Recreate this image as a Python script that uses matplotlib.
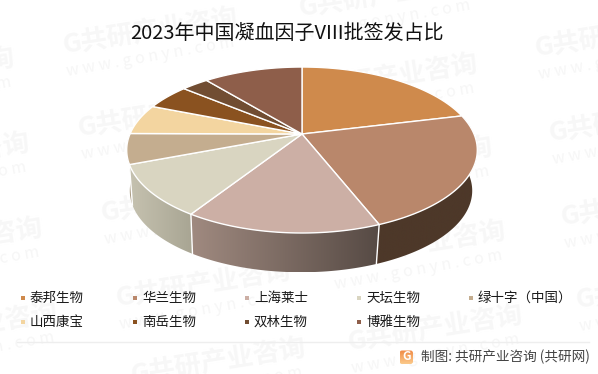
import numpy as np
import matplotlib
matplotlib.use("Agg")
import matplotlib.pyplot as plt
from matplotlib.colors import LinearSegmentedColormap
from matplotlib.patches import Polygon, Rectangle, FancyBboxPatch

plt.rcParams["font.family"] = ["Noto Sans CJK SC", "DejaVu Sans"]

title = "2023年中国凝血因子VIII批签发占比"
names = ["泰邦生物", "华兰生物", "上海莱士", "天坛生物", "绿十字（中国）",
         "山西康宝", "南岳生物", "双林生物", "博雅生物"]
shares = [21.2, 22.8, 15.1, 10.1, 5.9, 5.9, 5.0, 3.0, 11.0]
top_colors = ["#cf8a4c", "#b9876b", "#ccafa5", "#d9d5c1", "#c4ad8f",
              "#f3d5a0", "#8a5220", "#714d32", "#8e5e4a"]
# side wall colours, left end and right end of each visible slice
side_left = {1: "#4d3829", 2: "#a08a80", 3: "#c6c2b0", 4: "#a89a82"}
side_right = {1: "#4d3829", 2: "#564a44", 3: "#a8a593", 4: "#a89a82"}
legend_x = [23, 135, 247, 359, 471]
legend_y = [298, 322]
# watermark anchors: centre of the big text
mark_x = [150, 165, 188, 203, 218, 386, 390, 405, 418, 435, 622, 636, 648, 663, -73, -58, -45, -30]
mark_y = [32, 115, 200, 285, 362, -5, 78, 161, 245, 329, 35, 120, 204, 287, 72, 157, 242, 327]

fig = plt.figure(figsize=(5.98, 3.74), dpi=100)
ax = fig.add_axes([0, 0, 1, 1])
ax.axis("off")

for x, y in zip(mark_x, mark_y):
    ax.text(x, y, "G共研产业咨询", fontsize=19, fontweight="bold", color="#f7f7f7",
            rotation=9, ha="center", va="center", zorder=0)
    ax.text(x, y + 25, "w w w . g o n y n . c o m", fontsize=11.5, color="#f6f6f6",
            rotation=10, ha="center", va="center", zorder=0)


def project(theta, cx=302, cy=134, a=172, b=79.9, k=0.193):
    # theta runs clockwise from 12 o'clock on the flat disc
    u = np.sin(theta)
    v = np.cos(theta)
    w = 1 + k * v
    return cx + a * u / w, cy - b * v / w


edges = np.radians(np.cumsum([0] + shares) / np.sum(shares) * 360)

# side walls
for i in [4, 3, 2, 1]:
    t = np.linspace(edges[i], edges[i + 1], 80)
    tx, ty = project(t)
    bx, by = project(t, cx=301, cy=175, a=168, b=78.5)
    mask = by > ty - 0.5
    tx, ty, bx, by = tx[mask], ty[mask], bx[mask], by[mask]
    pts = np.r_[np.c_[tx, ty], np.c_[bx, by][::-1]]
    poly = Polygon(pts, closed=True, facecolor="none", edgecolor="none", zorder=2)
    ax.add_patch(poly)
    cmap = LinearSegmentedColormap.from_list("side", [side_left[i], side_right[i]])
    im = ax.imshow(np.linspace(0, 1, 256)[None, :], cmap=cmap, aspect="auto",
                   extent=[pts[:, 0].min(), pts[:, 0].max(), pts[:, 1].max(), pts[:, 1].min()],
                   zorder=2)
    im.set_clip_path(poly)
    # white seam on the wall
    ax.plot([tx[0], bx[0]], [ty[0], by[0]], color="white", lw=1, zorder=3)

# top face
for i, color in enumerate(top_colors):
    t = np.linspace(edges[i], edges[i + 1], 80)
    x, y = project(t)
    pts = np.r_[[[302, 134]], np.c_[x, y]]
    ax.add_patch(Polygon(pts, closed=True, facecolor=color, edgecolor="white", lw=1,
                         joinstyle="round", zorder=4))

ax.text(287, 33, title, fontsize=14.4, color="#111111", ha="center", va="center", zorder=6)

# legend
for i, name in enumerate(names):
    row = i // 5
    col = i % 5
    lx = legend_x[col]
    ly = legend_y[row]
    ax.add_patch(Rectangle((lx - 2.2, ly - 2.2), 4.4, 4.4, facecolor=top_colors[i], edgecolor="none", zorder=6))
    ax.text(lx + 7, ly, name, fontsize=9.7, color="#1a1a1a", ha="left", va="center", zorder=6)

# footer
ax.plot([17, 589], [342, 342], color="#eeeeee", lw=1, zorder=1)
logo = FancyBboxPatch((399.5, 350.5), 13.5, 13.5, boxstyle="round,pad=0,rounding_size=2.5",
                      facecolor="none", edgecolor="none", zorder=6)
ax.add_patch(logo)
logo_cmap = LinearSegmentedColormap.from_list("logo", ["#f08a45", "#fbc98a"])
logo_im = ax.imshow(np.linspace(0, 1, 32)[:, None], cmap=logo_cmap, aspect="auto",
                    extent=[399.5, 413, 364, 350.5], zorder=6)
logo_im.set_clip_path(logo)
ax.text(406.3, 357, "G", fontsize=8.5, fontweight="bold", color="white",
        ha="center", va="center", zorder=7)
ax.text(590, 357, "制图: 共研产业咨询 (共研网)", fontsize=9.8, color="#444444",
        ha="right", va="center", zorder=6)

ax.set_xlim(0, 598)
ax.set_ylim(374, 0)

fig.savefig("out.png", dpi=100)
